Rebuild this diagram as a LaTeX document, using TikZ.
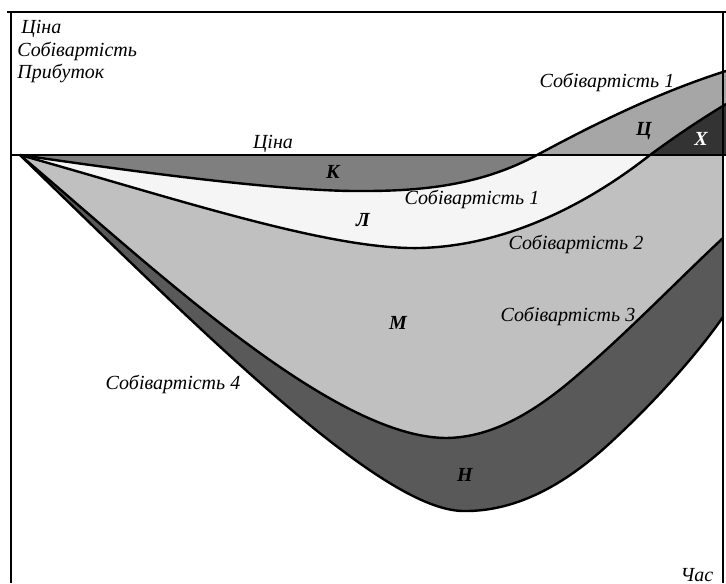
\documentclass[tikz,border=0pt]{standalone}
\usepackage{fontspec}
\setmainfont{Liberation Serif}
\usetikzlibrary{calc}

\definecolor{zoneK}{HTML}{7F7F7F}
\definecolor{zoneC}{HTML}{A6A6A6}
\definecolor{zoneX}{HTML}{333333}
\definecolor{zoneL}{HTML}{F5F5F5}
\definecolor{zoneM}{HTML}{C0C0C0}
\definecolor{zoneN}{HTML}{595959}

\newcommand{\costone}{(20,155) .. controls (150,174) and (290,192) .. (365,191) .. controls (430,191) and (485,183) .. (537,155) .. controls (580,132) and (650,95) .. (726,71)}
\newcommand{\costtwo}{(20,155) .. controls (180,200) and (330,250) .. (420,248) .. controls (500,246) and (580,210) .. (650,155) .. controls (680,133) and (700,120) .. (726,104)}
\newcommand{\costthree}{(20,155) .. controls (150,265) and (330,436) .. (445,438) .. controls (495,438) and (540,408) .. (580,373) .. controls (630,330) and (680,278) .. (723,238)}
\newcommand{\costfour}{(20,155) .. controls (200,330) and (380,510) .. (463,511) .. controls (520,512) and (570,480) .. (610,443) .. controls (660,397) and (700,350) .. (723,317)}

\begin{document}
\begin{tikzpicture}[x=0.5pt,y=-0.5pt]
	 \tikzstyle{curve}=[draw,black,line width=1.2pt]
	 \tikzstyle{frame}=[draw,black,line width=0.8pt]
	 \tikzstyle{txt}=[font=\itshape\fontsize{10}{12}\selectfont,inner sep=0pt]
	 \tikzstyle{zone}=[font=\bfseries\itshape\fontsize{10}{12}\selectfont,inner sep=0pt]
	 \useasboundingbox (0,0) rectangle (726,583);
	 % areas between the cost curves
	 \fill[zoneN] \costfour -- (723,155) -- cycle;
	 \fill[zoneM] \costthree -- (723,155) -- cycle;
	 \begin{scope}
	 \clip (0,155) rectangle (726,583);
	 \fill[zoneL] \costtwo -- (726,155) -- cycle;
	 \fill[zoneK] \costone -- (726,155) -- cycle;
	 \end{scope}
	 \begin{scope}
	 \clip (0,0) rectangle (726,155);
	 \fill[zoneC] \costone -- (726,155) -- cycle;
	 \fill[zoneX] \costtwo -- (726,155) -- cycle;
	 \end{scope}
	 % frame and price line
	 \draw[frame] (7,12) -- (726,12);
	 \draw[frame] (11,12) -- (11,583);
	 \draw[frame] (723,12) -- (723,583);
	 \draw[black,line width=0.6pt] (11,155) -- (726,155);
	 % curves
	 \draw[curve] \costone;
	 \draw[curve] \costtwo;
	 \draw[curve] \costthree;
	 \draw[curve] \costfour;
	 % labels
	 \node[txt,anchor=west] (axprice) at (21,29) {Ціна};
	 \node[txt,anchor=west] (axcost) at (17,51) {Собівартість};
	 \node[txt,anchor=west] (axprofit) at (17,73) {Прибуток};
	 \node[txt] (price) at (273,144) {Ціна};
	 \node[txt] (cost1a) at (607,82) {Собівартість 1};
	 \node[txt] (cost1b) at (472,199) {Собівартість 1};
	 \node[txt] (cost2) at (576,244) {Собівартість 2};
	 \node[txt] (cost3) at (568,316) {Собівартість 3};
	 \node[txt] (cost4) at (173,384) {Собівартість 4};
	 \node[txt] (time) at (697,575) {Час};
	 \node[zone] (k) at (333,172) {К};
	 \node[zone] (c) at (644,131) {Ц};
	 \node[zone,white] (x) at (701,139) {Х};
	 \node[zone] (l) at (363,220) {Л};
	 \node[zone] (m) at (398,323) {М};
	 \node[zone] (n) at (465,475) {Н};
 \end{tikzpicture}
\end{document}
